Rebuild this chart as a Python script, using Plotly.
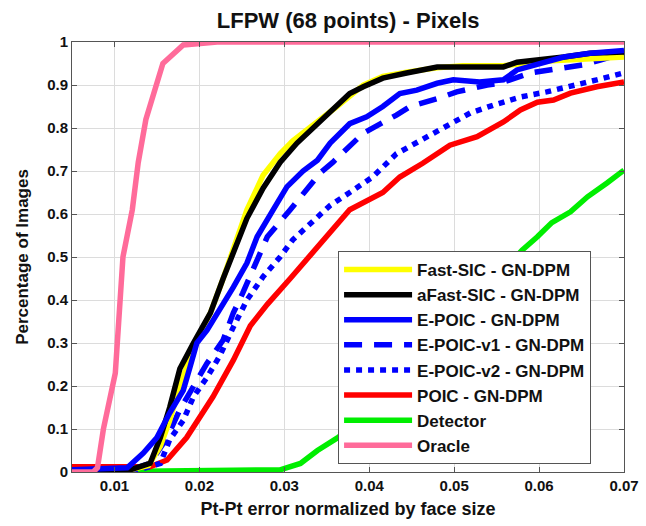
import plotly.graph_objects as go

# ---------------- data ----------------
oracle_x = [0.005, 0.0075, 0.008, 0.0087, 0.0101, 0.011, 0.0121, 0.0128, 0.0137, 0.0148, 0.0157, 0.0181, 0.0221, 0.07]
oracle_y = [0.0, 0.0, 0.01, 0.10, 0.23, 0.50, 0.61, 0.72, 0.82, 0.89, 0.95, 0.993, 1.0, 1.0]

poic_x = [0.005, 0.0142, 0.0162, 0.0185, 0.0216, 0.024, 0.026, 0.028, 0.0307, 0.0334, 0.0354, 0.0377, 0.0416,
          0.0436, 0.0463, 0.0495, 0.0527, 0.0558, 0.0578, 0.0598, 0.0617, 0.0637, 0.0668, 0.07]
poic_y = [0.012, 0.012, 0.028, 0.08, 0.175, 0.26, 0.34, 0.39, 0.45, 0.51, 0.556, 0.61, 0.65,
          0.686, 0.718, 0.76, 0.78, 0.814, 0.842, 0.86, 0.865, 0.881, 0.896, 0.907]

det_x = [0.005, 0.0295, 0.0319, 0.0339, 0.0363, 0.040, 0.045, 0.050, 0.055, 0.058, 0.0598, 0.0615, 0.0637, 0.0657, 0.068, 0.07]
det_y = [0.0, 0.005, 0.02, 0.05, 0.08, 0.13, 0.24, 0.35, 0.45, 0.516, 0.547, 0.58, 0.605, 0.64, 0.672, 0.702]

afast_x = [0.005, 0.012, 0.0142, 0.0154, 0.0165, 0.0177, 0.0193, 0.0213, 0.0228, 0.0244, 0.0256, 0.0275, 0.0295,
           0.0315, 0.0339, 0.0362, 0.0377, 0.0393, 0.0416, 0.0444, 0.048, 0.051, 0.0558, 0.0574, 0.0605,
           0.0629, 0.066, 0.07]
afast_y = [0.005, 0.006, 0.02, 0.08, 0.15, 0.24, 0.30, 0.37, 0.45, 0.53, 0.59, 0.66, 0.72,
           0.765, 0.81, 0.85, 0.88, 0.896, 0.916, 0.928, 0.942, 0.942, 0.942, 0.953, 0.958,
           0.965, 0.974, 0.977]

fast_x = [0.005, 0.012, 0.014, 0.0154, 0.0165, 0.0177, 0.0193, 0.0213, 0.0228, 0.0244, 0.0256, 0.0275, 0.0295,
          0.031, 0.033, 0.0362, 0.0393, 0.0416, 0.0444, 0.048, 0.051, 0.0558, 0.0605, 0.066, 0.07]
fast_y = [0.005, 0.006, 0.015, 0.06, 0.12, 0.20, 0.29, 0.37, 0.45, 0.54, 0.61, 0.69, 0.74,
          0.77, 0.80, 0.85, 0.90, 0.92, 0.93, 0.94, 0.945, 0.945, 0.955, 0.96, 0.965]

epoic_x = [0.005, 0.0115, 0.0134, 0.015, 0.0165, 0.0181, 0.0189, 0.0197, 0.0209, 0.0224, 0.024, 0.0256, 0.0268,
           0.0287, 0.0303, 0.0322, 0.0339, 0.0354, 0.0377, 0.0397, 0.0416, 0.0436, 0.0456, 0.048, 0.0499,
           0.053, 0.0558, 0.0574, 0.0598, 0.0629, 0.066, 0.07]
epoic_y = [0.005, 0.01, 0.044, 0.08, 0.137, 0.19, 0.244, 0.30, 0.33, 0.377, 0.43, 0.486, 0.547,
           0.61, 0.663, 0.70, 0.725, 0.765, 0.81, 0.826, 0.85, 0.88, 0.888, 0.904, 0.912,
           0.907, 0.912, 0.935, 0.947, 0.965, 0.974, 0.98]

v1_x = [0.005, 0.012, 0.0142, 0.0162, 0.0177, 0.0193, 0.0209, 0.0228, 0.024, 0.0251, 0.0263, 0.0275, 0.028,
        0.0307, 0.0342, 0.0357, 0.0381, 0.0393, 0.0432, 0.0448, 0.0483, 0.0503, 0.0539, 0.0554, 0.059,
        0.0613, 0.0652, 0.0672, 0.07]
v1_y = [0.005, 0.006, 0.02, 0.08, 0.145, 0.20, 0.253, 0.307, 0.37, 0.416, 0.47, 0.52, 0.547,
        0.61, 0.695, 0.72, 0.765, 0.788, 0.83, 0.85, 0.87, 0.884, 0.90, 0.904, 0.928,
        0.935, 0.947, 0.958, 0.974]

v2_x = [0.005, 0.013, 0.0154, 0.0165, 0.0181, 0.0193, 0.0209, 0.0224, 0.024, 0.0256, 0.0275, 0.0295, 0.031,
        0.0334, 0.0354, 0.0377, 0.0404, 0.0432, 0.0459, 0.0487, 0.0519, 0.0546, 0.0578, 0.0609, 0.0637,
        0.0668, 0.07]
v2_y = [0.005, 0.006, 0.02, 0.075, 0.12, 0.175, 0.22, 0.27, 0.337, 0.40, 0.454, 0.50, 0.54,
        0.586, 0.62, 0.65, 0.686, 0.74, 0.77, 0.80, 0.835, 0.853, 0.872, 0.884, 0.896,
        0.912, 0.928]

x_ticks = [0.01, 0.02, 0.03, 0.04, 0.05, 0.06, 0.07]
x_tick_text = ["0.01", "0.02", "0.03", "0.04", "0.05", "0.06", "0.07"]
y_ticks = [0, 0.1, 0.2, 0.3, 0.4, 0.5, 0.6, 0.7, 0.8, 0.9, 1.0]
y_tick_text = ["0", "0.1", "0.2", "0.3", "0.4", "0.5", "0.6", "0.7", "0.8", "0.9", "1"]

# ---------------- figure ----------------
FONT = "Liberation Sans, Arial, sans-serif"
W = 5.5

series = [
    ("Fast-SIC - GN-DPM", fast_x, fast_y, "#ffff00", "solid"),
    ("aFast-SIC - GN-DPM", afast_x, afast_y, "#000000", "solid"),
    ("E-POIC - GN-DPM", epoic_x, epoic_y, "#0000ff", "solid"),
    ("E-POIC-v1 - GN-DPM", v1_x, v1_y, "#0000ff", "18px,12px"),
    ("E-POIC-v2 - GN-DPM", v2_x, v2_y, "#0000ff", "6px,6px"),
    ("POIC - GN-DPM", poic_x, poic_y, "#ff0000", "solid"),
    ("Detector", det_x, det_y, "#00ee00", "solid"),
    ("Oracle", oracle_x, oracle_y, "#ff6b9a", "solid"),
]

fig = go.Figure()
draw_order = [6, 5, 4, 3, 0, 1, 2, 7]
for i in draw_order:
    name, xs, ys, col, dash = series[i]
    fig.add_trace(go.Scatter(
        x=xs, y=ys, mode="lines", name=name,
        line=dict(color=col, width=W, dash=dash),
        legendrank=i + 1,
    ))

axis_common = dict(
    showgrid=True, gridcolor="#dcdcdc", gridwidth=1,
    showline=True, linecolor="#555555", linewidth=1, mirror="ticks",
    ticks="inside", ticklen=5, tickcolor="#555555",
    zeroline=False, automargin=False,
    tickfont=dict(family=FONT, size=15, color="#111111", weight="bold"),
)

fig.update_layout(
    width=646, height=526,
    margin=dict(l=72, r=22, t=42, b=54, autoexpand=False),
    paper_bgcolor="white", plot_bgcolor="white",
    title=dict(text="LFPW (68 points) - Pixels", x=0.539, xanchor="center", y=0.962, yanchor="middle",
               font=dict(family=FONT, size=22, color="#111111", weight="bold")),
    xaxis=dict(range=[0.005, 0.07], tickvals=x_ticks, ticktext=x_tick_text,
               title=dict(text="Pt-Pt error normalized by face size", standoff=9,
                          font=dict(family=FONT, size=18, color="#111111", weight="bold")),
               **axis_common),
    yaxis=dict(range=[0, 1], tickvals=y_ticks, ticktext=y_tick_text,
               title=dict(text="Percentage of Images", standoff=14,
                          font=dict(family=FONT, size=17, color="#111111", weight="bold")),
               **axis_common),
    legend=dict(x=0.482, y=0.514, xanchor="left", yanchor="top",
                bgcolor="white", bordercolor="#555555", borderwidth=1,
                traceorder="normal",
                font=dict(family=FONT, size=17, color="#111111", weight="bold"),
                itemwidth=68),
    showlegend=True,
)

fig.write_html("out.html")
